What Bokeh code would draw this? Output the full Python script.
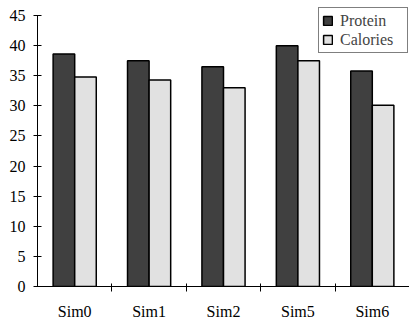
from bokeh.plotting import figure
from bokeh.models import Range1d, FixedTicker, Legend, LegendItem
from bokeh.embed import file_html
from bokeh.resources import INLINE

categories = ["Sim0", "Sim1", "Sim2", "Sim5", "Sim6"]
protein = [38.6, 37.5, 36.5, 40.0, 35.8]
calories = [34.8, 34.3, 33.0, 37.5, 30.1]
y_ticks = [0, 5, 10, 15, 20, 25, 30, 35, 40, 45]

FONT = "Liberation Serif"
FS = "16px"
n = len(categories)
centers = [i + 0.5 for i in range(n)]
bw = 0.29

p = figure(width=409, height=325, output_backend="svg", toolbar_location=None,
           x_range=Range1d(0, n), y_range=Range1d(0, 46.5),
           min_border_left=37, min_border_right=0, min_border_top=6, min_border_bottom=39)
p.outline_line_color = None
p.xgrid.grid_line_color = None
p.ygrid.grid_line_color = None
p.background_fill_color = "white"
p.border_fill_color = "white"

r1 = p.vbar(x=[c - bw / 2 for c in centers], top=protein, width=bw, bottom=0,
            fill_color="#404040", line_color="black", line_width=1.5)
r2 = p.vbar(x=[c + bw / 2 for c in centers], top=calories, width=bw, bottom=0,
            fill_color="#e1e1e1", line_color="black", line_width=1.5)

# x axis
xa = p.xaxis[0]
xa.ticker = FixedTicker(ticks=centers, minor_ticks=list(range(1, n)))
xa.major_label_overrides = {c: lab for c, lab in zip(centers, categories)}
xa.major_tick_line_color = None
xa.major_tick_in = 0
xa.major_tick_out = 0
xa.minor_tick_line_color = "black"
xa.minor_tick_in = 3
xa.minor_tick_out = 5
xa.axis_line_color = "black"
xa.axis_line_width = 1
xa.major_label_text_font = FONT
xa.major_label_text_font_size = FS
xa.major_label_text_color = "black"
xa.major_label_standoff = 11

# y axis
ya = p.yaxis[0]
ya.ticker = FixedTicker(ticks=y_ticks)
ya.bounds = (0, 45)
ya.minor_tick_line_color = None
ya.major_tick_in = 4
ya.major_tick_out = 4
ya.major_tick_line_color = "black"
ya.axis_line_color = "black"
ya.major_label_text_font = FONT
ya.major_label_text_font_size = FS
ya.major_label_text_color = "black"
ya.major_label_standoff = 8

legend = Legend(items=[LegendItem(label="Protein", renderers=[r1]),
                       LegendItem(label="Calories", renderers=[r2])],
                location="top_right", margin=1, padding=3, spacing=0,
                glyph_width=11, glyph_height=11, label_standoff=7,
                label_text_font=FONT, label_text_font_size=FS,
                label_height=19, label_width=64,
                border_line_color="black", border_line_width=1,
                background_fill_color="white", background_fill_alpha=1)
p.add_layout(legend)

open("out.html", "w").write(file_html(p, INLINE))
